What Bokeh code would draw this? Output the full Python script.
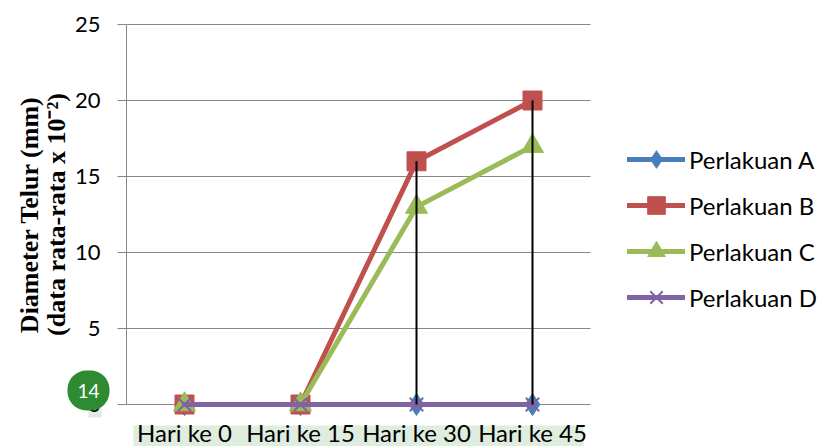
import math
from bokeh.plotting import figure
from bokeh.models import (Range1d, Legend, LegendItem, Label, LabelSet,
                          BoxAnnotation, ColumnDataSource, FixedTicker)
from bokeh.core.properties import value
from bokeh.embed import file_html
from bokeh.resources import INLINE

# ---- data ----
categories = ["Hari ke 0", "Hari ke 15", "Hari ke 30", "Hari ke 45"]
perlakuan_a = [0, 0, 0, 0]
perlakuan_b = [0, 0, 16, 20]
perlakuan_c = [0, 0, 13, 17]
perlakuan_d = [0, 0, 0, 0]
series_names = ["Perlakuan A", "Perlakuan B", "Perlakuan C", "Perlakuan D"]
y_ticks = [0, 5, 10, 15, 20, 25]
y_title_1 = "Diameter Telur (mm)"
y_title_2 = "(data rata-rata x 10\u207b\u00b2)"
badge_text = "14"

FONT = "Lato"
GRID = "#868686"
COLORS = ["#4a7ebb", "#c0504d", "#9bbb59", "#8064a2"]

W, H = 818, 446
# plot area in pixels (left, right, top, bottom)
PL, PR, PT, PB = 126, 590, 24, 404
n = len(categories)
ymax = y_ticks[-1]
xs_px = (PR - PL) / n
ys_px = (PB - PT) / ymax

p = figure(width=W, height=H, output_backend="svg", toolbar_location=None,
           x_range=Range1d(-PL / xs_px, (W - PL) / xs_px),
           y_range=Range1d(-(H - PB) / ys_px, ymax + PT / ys_px),
           x_axis_location=None, title=None,
           min_border_left=0, min_border_right=0,
           min_border_top=0, min_border_bottom=0)
p.outline_line_color = None
p.background_fill_color = "white"
p.border_fill_color = "white"
p.xgrid.visible = False
p.ygrid.visible = False

yax = p.yaxis[0]
yax.fixed_location = 0
yax.ticker = FixedTicker(ticks=y_ticks)
yax.bounds = (0, ymax)
yax.axis_line_color = GRID
yax.major_tick_line_color = GRID
yax.major_tick_out = 9
yax.major_tick_in = 0
yax.minor_tick_line_color = None
yax.major_label_text_font = FONT
yax.major_label_text_font_size = "22px"
yax.major_label_text_color = "black"
yax.major_label_standoff = 17

pos = [i + 0.5 for i in range(n)]
src = ColumnDataSource(dict(
    pos=pos, cat=categories,
    a=perlakuan_a, b=perlakuan_b, c=perlakuan_c, d=perlakuan_d,
    top=[max(v) for v in zip(perlakuan_a, perlakuan_b, perlakuan_c, perlakuan_d)],
    zero=[0] * n,
))

# highlight bands behind x labels and behind the "0" tick label
p.add_layout(BoxAnnotation(left=133, right=583, top=H - 425, bottom=-2,
                           left_units="screen", right_units="screen",
                           top_units="screen", bottom_units="screen",
                           fill_color="#dfeddf", fill_alpha=1, line_color=None,
                           level="underlay"))
p.add_layout(BoxAnnotation(left=88, right=101, top=H - 400, bottom=H - 417,
                           left_units="screen", right_units="screen",
                           top_units="screen", bottom_units="screen",
                           fill_color="#dfeddf", fill_alpha=1, line_color=None,
                           level="underlay"))

# horizontal gridlines (incl. category axis line at 0)
p.segment(x0=[0] * len(y_ticks), x1=[n] * len(y_ticks), y0=y_ticks, y1=y_ticks,
          line_color=GRID, line_width=1)

markers = [("diamond", 22, 1), ("square", 19, 1), ("triangle", 22, 1), ("x", 19, 2)]
fields = ["a", "b", "c", "d"]
items = []
for name, f, col, (mk, sz, lw) in zip(series_names, fields, COLORS, markers):
    ln = p.line("pos", f, source=src, line_color=col, line_width=5,
                line_join="round", line_cap="round")
    if mk == "x":
        sc = p.scatter("pos", f, source=src, marker=mk, size=sz,
                       line_color=col, line_width=lw)
    else:
        sc = p.scatter("pos", f, source=src, marker=mk, size=sz,
                       fill_color=col, line_color=col, line_width=lw)
    items.append(LegendItem(label=name, renderers=[ln, sc]))

# drop lines
p.segment(x0="pos", y0="top", x1="pos", y1="zero", source=src,
          line_color="black", line_width=2)

legend = Legend(items=items, location=(627, H - 319), orientation="vertical",
                glyph_width=58, glyph_height=44, label_height=44,
                label_standoff=4, spacing=2, padding=0, margin=0,
                border_line_color=None, background_fill_alpha=0,
                label_text_font=FONT, label_text_font_size="24px",
                label_text_color="black", label_text_baseline="middle")
p.add_layout(legend, "center")

# x category labels
p.add_layout(LabelSet(x="pos", y=H - 441, y_units="screen", text="cat", source=src,
                      text_align="center", text_baseline="alphabetic",
                      text_font=value(FONT), text_font_size=value("24px"),
                      text_color=value("black")))

# y axis title (two lines)
for txt, xb in [(y_title_1, 29), (y_title_2, 56)]:
    p.add_layout(Label(x=xb, y=H - 214, x_units="screen", y_units="screen", text=txt,
                       angle=math.pi / 2, text_align="center",
                       text_baseline="alphabetic", text_font="Liberation Serif",
                       text_font_style="bold", text_font_size="26px",
                       text_color="black"))

# green badge
p.add_layout(Label(x=88, y=H - 390, x_units="screen", y_units="screen", text=badge_text,
                   text_align="center", text_baseline="middle",
                   text_font=FONT, text_font_size="19px", text_color="white",
                   background_fill_color="#2e8b32", background_fill_alpha=1,
                   padding=(10, 13), border_radius=19))

open("out.html", "w").write(file_html(p, INLINE))
